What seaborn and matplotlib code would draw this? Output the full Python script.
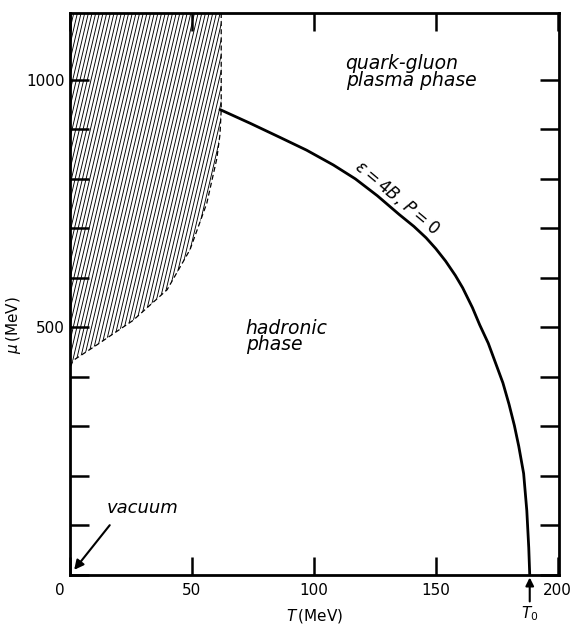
import numpy as np
import pandas as pd
import matplotlib
matplotlib.use("Agg")
import matplotlib.pyplot as plt
import matplotlib.transforms as mtransforms
import seaborn as sns
from matplotlib.patches import Polygon

# ---- data ----
T_curve = [61.5, 74, 86, 97, 108, 117, 126, 135, 141, 146, 150, 154, 158, 161, 165, 168, 171.5, 174.5, 177.5, 180, 182.2, 184, 186, 187.3, 188.1, 188.5]
mu_curve = [940, 912, 884, 858, 828, 800, 766, 728, 704, 681, 659, 634, 605, 580, 540, 505, 468, 428, 388, 345, 302, 260, 205, 130, 55, 0]

hatch_T = [62.0, 62.0, 61.5, 60.2, 56.1, 49.2, 39.8, 25.8, 11.1, 1.2, 0.0]
hatch_mu = [1135, 940, 890, 841, 751, 657, 576, 514, 465, 433, 418]

x_ticks = [0, 50, 100, 150, 200]
y_ticks = [0, 100, 200, 300, 400, 500, 600, 700, 800, 900, 1000]
y_labels = ["", "", "", "", "", "500", "", "", "", "", "1000"]

T0 = 188.5

sns.set_theme(style="ticks")
plt.rcParams['font.family'] = ['DejaVu Sans']
for k in ['text.color', 'axes.labelcolor', 'xtick.color', 'ytick.color', 'axes.edgecolor']:
    plt.rcParams[k] = 'black'

fig = plt.figure(figsize=(5.77, 6.34), dpi=100)
ax = fig.add_axes([70/577, 1-575/634, 489/577, 562/634])
ax.set_xlim(0, 200.5)
ax.set_ylim(0, 1135)

# hatched region
poly_xy = list(zip(hatch_T, hatch_mu)) + [(0, 1135)]
poly = Polygon(poly_xy, closed=True, facecolor='none', edgecolor='none')
ax.add_patch(poly)
slope = 21.0
for t0 in np.arange(-60, 64, 1.5):
    ln, = ax.plot([t0, t0 + 60], [0, slope * 60], color='black', lw=0.65, zorder=1)
    ln.set_clip_path(poly)
ax.plot(hatch_T, hatch_mu, color='black', lw=0.9, ls=(0, (4, 2.5)), zorder=2)

# phase boundary
df = pd.DataFrame({"T": T_curve, "mu": mu_curve})
sns.lineplot(data=df, x="T", y="mu", sort=False, color='black', lw=2.0, ax=ax, estimator=None)

ax.set_xticks(x_ticks)
ax.set_xticklabels([str(v) for v in x_ticks], fontsize=11)
ax.set_yticks(y_ticks)
ax.set_yticklabels(y_labels, fontsize=11)
ax.tick_params(axis='both', direction='in', length=13, width=1.8, top=True, right=True, color='black')
ax.tick_params(axis='y', length=14)
ax.tick_params(axis='x', pad=6)
for s in ax.spines.values():
    s.set_linewidth(2.0)
    s.set_color('black')
# shift the corner "0" label slightly left, as in the original
lbl0 = ax.get_xticklabels()[0]
lbl0.set_transform(lbl0.get_transform() + mtransforms.ScaledTranslation(-0.1, 0, fig.dpi_scale_trans))

ax.set_xlabel(r"$T\,$(MeV)", fontsize=11, labelpad=6)
ax.set_ylabel(r"$\mu\,$(MeV)", fontsize=11)
ax.yaxis.set_label_coords(-0.096, 0.445)

# annotations
ax.text(113, 1052, "quark-gluon\nplasma phase", fontsize=13.5, style='italic', va='top', linespacing=0.85)
ax.text(72, 518, "hadronic\nphase", fontsize=13.5, style='italic', va='top', linespacing=0.85)
ax.text(15, 135, "vacuum", fontsize=13, style='italic', va='center')
ax.annotate("", xy=(1, 6), xytext=(17, 105),
            arrowprops=dict(arrowstyle='-|>', color='black', lw=1.5, mutation_scale=14))
ax.text(134, 762, r"$\varepsilon=4B,\,P=0$", fontsize=12, rotation=-40,
        rotation_mode='anchor', ha='center', va='center')
ax.annotate(r"$T_0$", xy=(T0, -5), xytext=(T0, -60), annotation_clip=False,
            ha='center', va='top', fontsize=11,
            arrowprops=dict(arrowstyle='-|>', color='black', lw=1.5, mutation_scale=12,
                            shrinkA=0, shrinkB=0))

fig.savefig("out.png", dpi=100)
